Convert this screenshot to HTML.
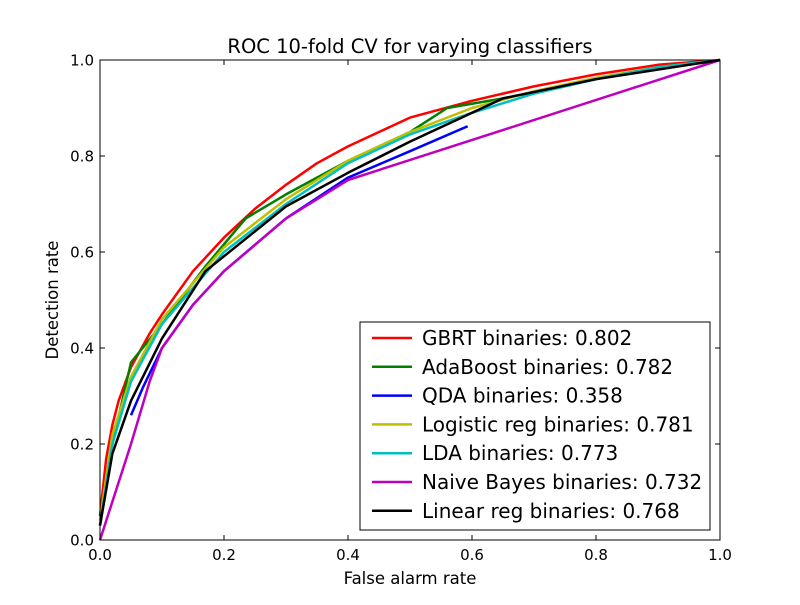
<!DOCTYPE html>
<html><head><meta charset="utf-8"><style>
body{margin:0;background:#fff;}
svg{font-family:"DejaVu Sans","Liberation Sans",sans-serif;}
</style></head><body>
<svg id="chart" width="800" height="600" viewBox="0 0 800 600">
<rect width="800" height="600" fill="#fff"/>
<text x="410" y="53" font-size="19.5" text-anchor="middle">ROC 10-fold CV for varying classifiers</text>
<text x="410" y="584" font-size="16.5" text-anchor="middle">False alarm rate</text>
<text x="58" y="300" font-size="16.5" text-anchor="middle" transform="rotate(-90 58 300)">Detection rate</text>
<g id="ticks"></g>
<g id="series"></g>
<rect x="100" y="60" width="620" height="480" fill="none" stroke="#000" stroke-width="1"/>
<g id="legend"></g>
</svg>
<script>
const xTicks=[0,0.2,0.4,0.6,0.8,1.0];
const yTicks=[0,0.2,0.4,0.6,0.8,1.0];
const seriesNames=["GBRT binaries: 0.802","AdaBoost binaries: 0.782","QDA binaries: 0.358","Logistic reg binaries: 0.781","LDA binaries: 0.773","Naive Bayes binaries: 0.732","Linear reg binaries: 0.768"];
const seriesColors=["#ff0000","#008000","#0000ff","#bfbf00","#00bfbf","#bf00bf","#000000"];
const gbrt=[[0,0.05],[0.01,0.17],[0.02,0.24],[0.03,0.29],[0.05,0.36],[0.08,0.43],[0.1,0.47],[0.15,0.56],[0.2,0.63],[0.25,0.69],[0.3,0.74],[0.35,0.785],[0.4,0.82],[0.45,0.85],[0.5,0.88],[0.6,0.915],[0.7,0.945],[0.8,0.97],[0.9,0.99],[1,1]];
const ada=[[0,0.03],[0.02,0.2],[0.05,0.37],[0.1,0.45],[0.17,0.57],[0.235,0.67],[0.3,0.72],[0.4,0.79],[0.5,0.85],[0.56,0.9],[0.65,0.92],[0.8,0.96],[0.9,0.985],[1,1]];
const qda=[[0.05,0.26],[0.07,0.32],[0.1,0.4],[0.15,0.49],[0.2,0.56],[0.3,0.67],[0.4,0.755],[0.5,0.81],[0.593,0.862]];
const logit=[[0,0.04],[0.02,0.22],[0.05,0.34],[0.1,0.46],[0.2,0.61],[0.3,0.71],[0.4,0.79],[0.5,0.85],[0.6,0.9],[0.7,0.935],[0.8,0.963],[0.9,0.985],[1,1]];
const lda=[[0,0.03],[0.02,0.2],[0.05,0.33],[0.1,0.45],[0.2,0.6],[0.3,0.7],[0.4,0.785],[0.5,0.845],[0.6,0.89],[0.7,0.93],[0.8,0.96],[0.9,0.985],[1,1]];
const nb=[[0,0],[0.05,0.2],[0.08,0.33],[0.1,0.4],[0.15,0.49],[0.2,0.56],[0.3,0.67],[0.4,0.75],[1,1]];
const linreg=[[0,0.03],[0.02,0.18],[0.05,0.29],[0.1,0.42],[0.17,0.56],[0.3,0.695],[0.4,0.765],[0.5,0.83],[0.65,0.92],[0.8,0.96],[1,1]];
const allSeries=[gbrt,ada,qda,logit,lda,nb,linreg];
const seriesKeys=["gbrt","adaboost","qda","logistic-reg","lda","naive-bayes","linear-reg"];
const NS="http://www.w3.org/2000/svg";
const X=v=>100+v*620, Y=v=>540-v*480;
const tg=document.getElementById('ticks');
function mk(t,a,p){const e=document.createElementNS(NS,t);for(const k in a)e.setAttribute(k,a[k]);p.appendChild(e);return e;}
xTicks.forEach(v=>{
 const l=mk('path',{d:`M${X(v)},540v-5M${X(v)},60v5`,stroke:'#000'},tg);
 
 
 const t=mk('text',{x:X(v),y:560,'font-size':15,'text-anchor':'middle'},tg);t.textContent=v.toFixed(1);
 
 
});
yTicks.forEach(v=>{
 const l=mk('path',{d:`M100,${Y(v)}h5M720,${Y(v)}h-5`,stroke:'#000'},tg);
 
 
 const t=mk('text',{x:94,y:Y(v)+5.5,'font-size':15,'text-anchor':'end'},tg);t.textContent=v.toFixed(1);
 
 
});
const sg=document.getElementById('series');
allSeries.forEach((s,i)=>{
 const p=mk('polyline',{points:s.map(d=>X(d[0])+','+Y(d[1])).join(' '),fill:'none',stroke:seriesColors[i],'stroke-width':2.5,'stroke-linejoin':'round'},sg);
 
 
});
const lg=document.getElementById('legend');
const box=mk('rect',{x:360,y:322,width:350,height:208,fill:'#fff',stroke:'#000'},lg);


seriesNames.forEach((n,i)=>{
 const y=338+i*28.8;
 const l=mk('line',{x1:372,x2:412,y1:y,y2:y,stroke:seriesColors[i],'stroke-width':2.5},lg);
 
 
 const t=mk('text',{x:422,y:y+7,'font-size':20},lg);t.textContent=n;
 
 
});
</script>
</body></html>
